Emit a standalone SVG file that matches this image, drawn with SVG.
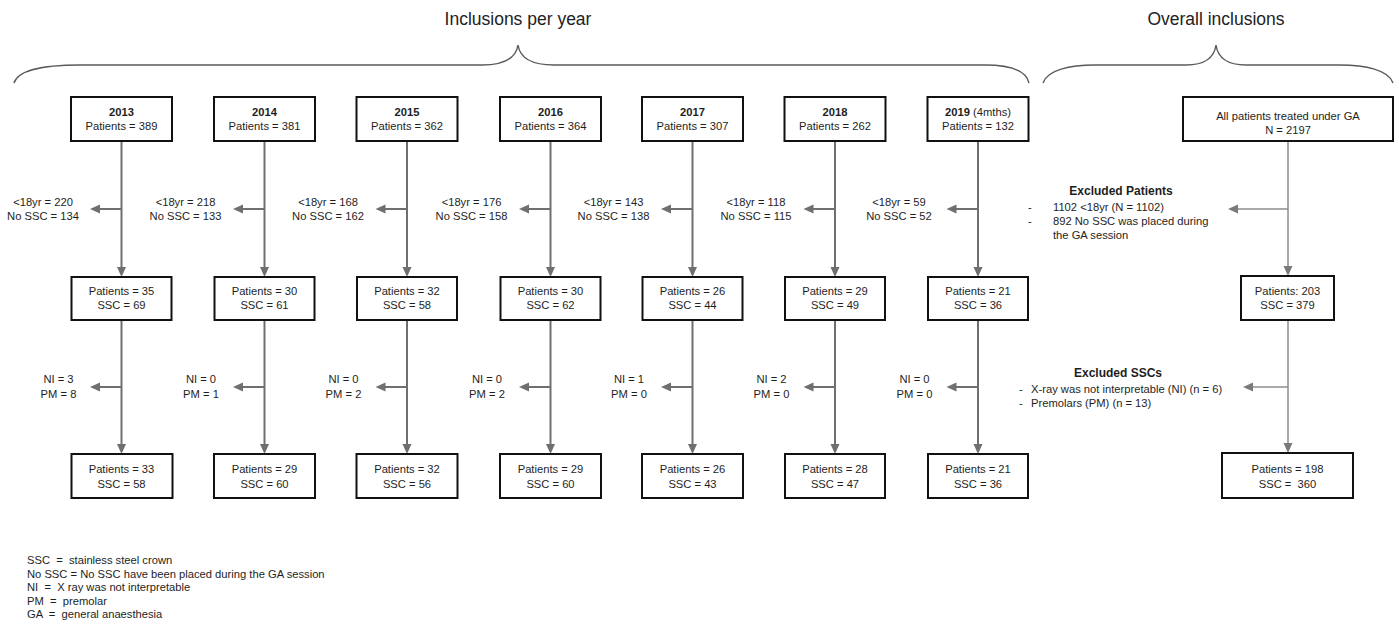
<svg xmlns="http://www.w3.org/2000/svg" width="1399" height="628" viewBox="0 0 1399 628">
<style>
text{font-family:"Liberation Sans",Arial,sans-serif;fill:#1e1e1e}
.t{font-size:11.2px;text-anchor:middle}
.b{font-weight:bold}
.h{font-size:12px;font-weight:bold;text-anchor:middle}
.l{font-size:11.2px}
.title{font-size:17.5px;text-anchor:middle;fill:#222}
.box{fill:#fff;stroke:#111;stroke-width:2}
.c{fill:none;stroke:#6f6f6f;stroke-width:2}
.c2{fill:none;stroke:#8c8c8c;stroke-width:1.5}
.brace{fill:none;stroke:#5a5a5a;stroke-width:1.4}
</style>
<defs>
<marker id="ah" markerUnits="userSpaceOnUse" markerWidth="12" markerHeight="10" refX="7" refY="5" orient="auto"><path d="M0,0.5 L10,5 L0,9.5 z" fill="#6f6f6f"/></marker>
<marker id="ah2" markerUnits="userSpaceOnUse" markerWidth="12" markerHeight="10" refX="7" refY="5" orient="auto"><path d="M0,0.5 L10,5 L0,9.5 z" fill="#7a7a7a"/></marker>
</defs>
<rect width="1399" height="628" fill="#fff"/>

<g id="headers">
<text class="title" x="518" y="25">Inclusions per year</text>
<path class="brace" d="M14,83 C18,70 45,65 80,65 L482,65 C505,65 516,58 518,45 C520,58 531,65 554,65 L985,65 C1010,65 1026,70 1029,83"/>
<text class="title" x="1216" y="25">Overall inclusions</text>
<path class="brace" d="M1043,83 C1047,70 1070,65 1095,65 L1186,65 C1204,65 1214,59 1216,45 C1218,59 1228,65 1246,65 L1340,65 C1365,65 1389,70 1393,83"/>
</g>

<g id="connectors">
<path class="c" marker-end="url(#ah)" d="M121.5,141 V274"/>
<path class="c" marker-end="url(#ah)" d="M121.5,209 H93"/>
<path class="c" marker-end="url(#ah)" d="M121.5,320 V451"/>
<path class="c" marker-end="url(#ah)" d="M121.5,387 H93"/>
<path class="c" marker-end="url(#ah)" d="M264.5,141 V274"/>
<path class="c" marker-end="url(#ah)" d="M264.5,209 H236"/>
<path class="c" marker-end="url(#ah)" d="M264.5,320 V451"/>
<path class="c" marker-end="url(#ah)" d="M264.5,387 H236"/>
<path class="c" marker-end="url(#ah)" d="M407,141 V274"/>
<path class="c" marker-end="url(#ah)" d="M407,209 H378.5"/>
<path class="c" marker-end="url(#ah)" d="M407,320 V451"/>
<path class="c" marker-end="url(#ah)" d="M407,387 H378.5"/>
<path class="c" marker-end="url(#ah)" d="M550.5,141 V274"/>
<path class="c" marker-end="url(#ah)" d="M550.5,209 H522"/>
<path class="c" marker-end="url(#ah)" d="M550.5,320 V451"/>
<path class="c" marker-end="url(#ah)" d="M550.5,387 H522"/>
<path class="c" marker-end="url(#ah)" d="M692.5,141 V274"/>
<path class="c" marker-end="url(#ah)" d="M692.5,209 H664"/>
<path class="c" marker-end="url(#ah)" d="M692.5,320 V451"/>
<path class="c" marker-end="url(#ah)" d="M692.5,387 H664"/>
<path class="c" marker-end="url(#ah)" d="M835,141 V274"/>
<path class="c" marker-end="url(#ah)" d="M835,209 H806.5"/>
<path class="c" marker-end="url(#ah)" d="M835,320 V451"/>
<path class="c" marker-end="url(#ah)" d="M835,387 H806.5"/>
<path class="c" marker-end="url(#ah)" d="M978,141 V274"/>
<path class="c" marker-end="url(#ah)" d="M978,209 H949.5"/>
<path class="c" marker-end="url(#ah)" d="M978,320 V451"/>
<path class="c" marker-end="url(#ah)" d="M978,387 H949.5"/>
<path class="c2" marker-end="url(#ah2)" d="M1288,141 V273"/>
<path class="c2" marker-end="url(#ah2)" d="M1288,209 H1231"/>
<path class="c2" marker-end="url(#ah2)" d="M1288,320 V450"/>
<path class="c2" marker-end="url(#ah2)" d="M1288,387 H1246"/>
</g>

<g id="y2013"><rect class="box" x="71" y="97" width="101" height="44"/><text class="t b" x="121.5" y="116">2013</text><text class="t" x="121.5" y="130">Patients = 389</text></g>
<g id="y2014"><rect class="box" x="214" y="97" width="101" height="44"/><text class="t b" x="264.5" y="116">2014</text><text class="t" x="264.5" y="130">Patients = 381</text></g>
<g id="y2015"><rect class="box" x="356.5" y="97" width="101" height="44"/><text class="t b" x="407" y="116">2015</text><text class="t" x="407" y="130">Patients = 362</text></g>
<g id="y2016"><rect class="box" x="500" y="97" width="101" height="44"/><text class="t b" x="550.5" y="116">2016</text><text class="t" x="550.5" y="130">Patients = 364</text></g>
<g id="y2017"><rect class="box" x="642" y="97" width="101" height="44"/><text class="t b" x="692.5" y="116">2017</text><text class="t" x="692.5" y="130">Patients = 307</text></g>
<g id="y2018"><rect class="box" x="784.5" y="97" width="101" height="44"/><text class="t b" x="835" y="116">2018</text><text class="t" x="835" y="130">Patients = 262</text></g>
<g id="y2019"><rect class="box" x="927.5" y="97" width="101" height="44"/><text class="t" x="978" y="116"><tspan class="b">2019</tspan> (4mths)</text><text class="t" x="978" y="130">Patients = 132</text></g>

<g id="ex1-2013"><text class="t" x="43" y="205.5">&lt;18yr = 220</text><text class="t" x="43" y="219.5">No SSC = 134</text></g>
<g id="ex1-2014"><text class="t" x="185.5" y="205.5">&lt;18yr = 218</text><text class="t" x="185.5" y="219.5">No SSC = 133</text></g>
<g id="ex1-2015"><text class="t" x="328" y="205.5">&lt;18yr = 168</text><text class="t" x="328" y="219.5">No SSC = 162</text></g>
<g id="ex1-2016"><text class="t" x="471.5" y="205.5">&lt;18yr = 176</text><text class="t" x="471.5" y="219.5">No SSC = 158</text></g>
<g id="ex1-2017"><text class="t" x="613.5" y="205.5">&lt;18yr = 143</text><text class="t" x="613.5" y="219.5">No SSC = 138</text></g>
<g id="ex1-2018"><text class="t" x="756" y="205.5">&lt;18yr = 118</text><text class="t" x="756" y="219.5">No SSC = 115</text></g>
<g id="ex1-2019"><text class="t" x="899" y="205.5">&lt;18yr = 59</text><text class="t" x="899" y="219.5">No SSC = 52</text></g>

<g id="m2013"><rect class="box" x="71.5" y="277" width="100" height="43"/><text class="t" x="121.5" y="295">Patients = 35</text><text class="t" x="121.5" y="309">SSC = 69</text></g>
<g id="m2014"><rect class="box" x="214.5" y="277" width="100" height="43"/><text class="t" x="264.5" y="295">Patients = 30</text><text class="t" x="264.5" y="309">SSC = 61</text></g>
<g id="m2015"><rect class="box" x="357" y="277" width="100" height="43"/><text class="t" x="407" y="295">Patients = 32</text><text class="t" x="407" y="309">SSC = 58</text></g>
<g id="m2016"><rect class="box" x="500.5" y="277" width="100" height="43"/><text class="t" x="550.5" y="295">Patients = 30</text><text class="t" x="550.5" y="309">SSC = 62</text></g>
<g id="m2017"><rect class="box" x="642.5" y="277" width="100" height="43"/><text class="t" x="692.5" y="295">Patients = 26</text><text class="t" x="692.5" y="309">SSC = 44</text></g>
<g id="m2018"><rect class="box" x="785" y="277" width="100" height="43"/><text class="t" x="835" y="295">Patients = 29</text><text class="t" x="835" y="309">SSC = 49</text></g>
<g id="m2019"><rect class="box" x="928" y="277" width="100" height="43"/><text class="t" x="978" y="295">Patients = 21</text><text class="t" x="978" y="309">SSC = 36</text></g>

<g id="ex2-2013"><text class="t" x="58.5" y="383">NI = 3</text><text class="t" x="58.5" y="398">PM = 8</text></g>
<g id="ex2-2014"><text class="t" x="201" y="383">NI = 0</text><text class="t" x="201" y="398">PM = 1</text></g>
<g id="ex2-2015"><text class="t" x="343.5" y="383">NI = 0</text><text class="t" x="343.5" y="398">PM = 2</text></g>
<g id="ex2-2016"><text class="t" x="487" y="383">NI = 0</text><text class="t" x="487" y="398">PM = 2</text></g>
<g id="ex2-2017"><text class="t" x="629" y="383">NI = 1</text><text class="t" x="629" y="398">PM = 0</text></g>
<g id="ex2-2018"><text class="t" x="771.5" y="383">NI = 2</text><text class="t" x="771.5" y="398">PM = 0</text></g>
<g id="ex2-2019"><text class="t" x="914.5" y="383">NI = 0</text><text class="t" x="914.5" y="398">PM = 0</text></g>

<g id="f2013"><rect class="box" x="71.5" y="454" width="101" height="44"/><text class="t" x="121.5" y="473">Patients = 33</text><text class="t" x="121.5" y="488">SSC = 58</text></g>
<g id="f2014"><rect class="box" x="214" y="454" width="101" height="44"/><text class="t" x="264.5" y="473">Patients = 29</text><text class="t" x="264.5" y="488">SSC = 60</text></g>
<g id="f2015"><rect class="box" x="356.5" y="454" width="101" height="44"/><text class="t" x="407" y="473">Patients = 32</text><text class="t" x="407" y="488">SSC = 56</text></g>
<g id="f2016"><rect class="box" x="500" y="454" width="101" height="44"/><text class="t" x="550.5" y="473">Patients = 29</text><text class="t" x="550.5" y="488">SSC = 60</text></g>
<g id="f2017"><rect class="box" x="642" y="454" width="101" height="44"/><text class="t" x="692.5" y="473">Patients = 26</text><text class="t" x="692.5" y="488">SSC = 43</text></g>
<g id="f2018"><rect class="box" x="785" y="454" width="100" height="44"/><text class="t" x="835" y="473">Patients = 28</text><text class="t" x="835" y="488">SSC = 47</text></g>
<g id="f2019"><rect class="box" x="928" y="454" width="100" height="44"/><text class="t" x="978" y="473">Patients = 21</text><text class="t" x="978" y="488">SSC = 36</text></g>

<g id="overall-all"><rect class="box" x="1183" y="97" width="210" height="44"/><text class="t" x="1288" y="120">All patients treated under GA</text><text class="t" x="1288" y="134">N = 2197</text></g>
<g id="excluded-patients"><text class="h" x="1121" y="195">Excluded Patients</text>
<text class="l" x="1028" y="211">-</text><text class="l" x="1053" y="211">1102 &lt;18yr (N = 1102)</text>
<text class="l" x="1028" y="225">-</text><text class="l" x="1053" y="225">892 No SSC was placed during</text>
<text class="l" x="1053" y="239">the GA session</text></g>
<g id="overall-mid"><rect class="box" x="1241" y="276" width="93" height="44"/><text class="t" x="1287.5" y="295">Patients: 203</text><text class="t" x="1287.5" y="309">SSC = 379</text></g>
<g id="excluded-sscs"><text class="h" x="1118" y="377">Excluded SSCs</text>
<text class="l" x="1019" y="393">-</text><text class="l" x="1031" y="393">X-ray was not interpretable (NI) (n = 6)</text>
<text class="l" x="1019" y="407">-</text><text class="l" x="1031" y="407">Premolars (PM) (n = 13)</text></g>
<g id="overall-final"><rect class="box" x="1222" y="453" width="131" height="45"/><text class="t" x="1287.5" y="473">Patients = 198</text><text class="t" x="1287.5" y="488" xml:space="preserve">SSC =  360</text></g>

<g id="legend">
<text class="l" x="27" y="564" xml:space="preserve">SSC  =  stainless steel crown</text>
<text class="l" x="27" y="577.5">No SSC = No SSC have been placed during the GA session</text>
<text class="l" x="27" y="591" xml:space="preserve">NI  =  X ray was not interpretable</text>
<text class="l" x="27" y="604.5" xml:space="preserve">PM  =  premolar</text>
<text class="l" x="27" y="618" xml:space="preserve">GA  =  general anaesthesia</text>
</g>
</svg>
